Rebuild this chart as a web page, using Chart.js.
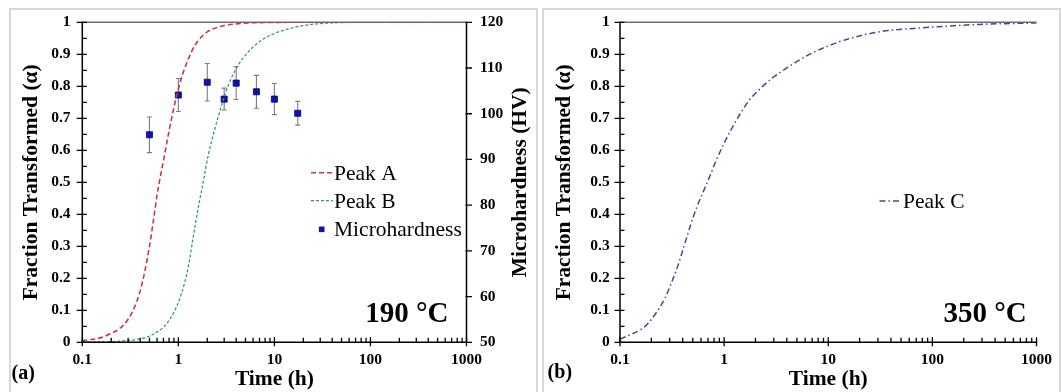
<!DOCTYPE html>
<html><head><meta charset="utf-8">
<script src="https://cdn.jsdelivr.net/npm/chart.js@4/dist/chart.umd.min.js"></script>
<style>
html,body{margin:0;padding:0;background:#fff;width:1062px;height:392px;overflow:hidden;}
.frame{position:absolute;border:2px solid #d8d8d8;box-sizing:border-box;}
canvas{position:absolute;top:0;}
</style></head><body>
<div class="frame" style="left:9px;top:8px;width:529px;height:400px"></div>
<div class="frame" style="left:542px;top:8px;width:519px;height:400px"></div>
<canvas id="ca" width="536" height="392" style="left:0px"></canvas>
<canvas id="cb" width="526" height="392" style="left:536px"></canvas>
<script>
// ---------- data ----------
const timeA = [0.1, 0.15, 0.2, 0.25, 0.3, 0.35, 0.4, 0.45, 0.5, 0.55, 0.6, 0.7, 0.8, 0.9, 1.0, 1.1, 1.25, 1.5, 2.0, 2.6, 4, 7, 20, 1000];
const peakA = [0.005, 0.013, 0.028, 0.045, 0.072, 0.11, 0.16, 0.225, 0.30, 0.38, 0.46, 0.568, 0.66, 0.735, 0.79, 0.835, 0.88, 0.93, 0.97, 0.985, 0.995, 0.999, 1, 1];

const timeB = [0.1, 0.2, 0.28, 0.42, 0.57, 0.76, 0.92, 1.08, 1.27, 1.43, 1.62, 1.8, 2.05, 2.41, 2.83, 3.32, 4.22, 5.36, 7.4, 10.2, 15, 20, 30, 50, 100, 1000];
const peakB = [0.001, 0.002, 0.005, 0.012, 0.028, 0.059, 0.10, 0.153, 0.236, 0.33, 0.424, 0.495, 0.585, 0.669, 0.742, 0.804, 0.867, 0.908, 0.945, 0.966, 0.982, 0.99, 0.996, 0.999, 1, 1];

const hardTime = [0.5, 1, 2, 3, 4, 6.5, 10, 17.5];
const hardness = [95.4, 104.1, 106.9, 103.2, 106.7, 104.8, 103.2, 100.1];
const hardErr  = [3.9, 3.6, 4.1, 2.4, 3.6, 3.6, 3.4, 2.6];

const timeC = [0.1, 0.124, 0.155, 0.18, 0.22, 0.27, 0.31, 0.35, 0.39, 0.43, 0.48, 0.54, 0.62, 0.72, 0.83, 1.0, 1.2, 1.44, 1.73, 2.15, 2.88, 4.16, 6.46, 9.64, 15.5, 32, 67, 139, 288, 1000];
const peakC = [0.01, 0.023, 0.038, 0.054, 0.09, 0.138, 0.184, 0.228, 0.275, 0.32, 0.37, 0.418, 0.465, 0.515, 0.565, 0.622, 0.672, 0.716, 0.755, 0.788, 0.825, 0.861, 0.898, 0.924, 0.948, 0.971, 0.981, 0.988, 0.9935, 0.998];

const xTickVals = [0.1, 1, 10, 100, 1000];
const xTickLabels = ['0.1', '1', '10', '100', '1000'];
const alphaTicks = [0, 0.1, 0.2, 0.3, 0.4, 0.5, 0.6, 0.7, 0.8, 0.9, 1];
const alphaTickLabels = ['0', '0.1', '0.2', '0.3', '0.4', '0.5', '0.6', '0.7', '0.8', '0.9', '1'];
const hvTicks = [50, 60, 70, 80, 90, 100, 110, 120];
const hvTickLabels = ['50', '60', '70', '80', '90', '100', '110', '120'];

// ---------- helpers ----------
const serif = '"Liberation Serif", "Times New Roman", serif';
const CH = 392, PLOT_BOTTOM = 342.3, PLOT_TOP = 22.3;
const pts = (xs, ys) => xs.map((x, i) => ({x: x, y: ys[i]}));

function xScale() {
  return {
    type: 'logarithmic', position: 'bottom', min: 0.1, max: 1000,
    afterBuildTicks: s => { s.ticks = xTickVals.map(v => ({value: v, major: true})); },
    afterFit: s => { s.height = CH - PLOT_BOTTOM; },
    grid: {display: false, drawTicks: false},
    border: {display: false},
    ticks: {autoSkip: false, maxRotation: 0, minRotation: 0, padding: 10, color: '#000',
      font: {family: serif, size: 15.5, weight: 'bold', lineHeight: 1},
      callback: (v, i) => xTickLabels[i]},
    title: {display: true, text: 'Time (h)', color: '#000',
      font: {family: serif, size: 21.5, weight: 'bold', lineHeight: 1}, padding: {top: 0, bottom: 1.5}}
  };
}
function alphaScale(width, titlePad, labelPad) {
  return {
    type: 'linear', position: 'left', min: 0, max: 1,
    afterBuildTicks: s => { s.ticks = alphaTicks.map(v => ({value: v})); },
    afterFit: s => { s.width = width; },
    grid: {display: false, drawTicks: false},
    border: {display: false},
    ticks: {padding: labelPad, color: '#000', font: {family: serif, size: 15.5, weight: 'bold', lineHeight: 1},
      callback: (v, i) => alphaTickLabels[i]},
    title: {display: true, text: 'Fraction Transformed (α)', color: '#000',
      font: {family: serif, size: 21.5, weight: 'bold', lineHeight: 1}, padding: {top: titlePad, bottom: 0}}
  };
}

function decor(cfg) {
  return {
    id: 'decor',
    beforeDatasetsDraw(chart) {
      const {ctx, chartArea: a} = chart;
      ctx.save();
      ctx.strokeStyle = '#707070'; ctx.lineWidth = 1.6;
      ctx.beginPath(); ctx.moveTo(a.left, a.top); ctx.lineTo(a.right, a.top); ctx.stroke();
      if (cfg.errors) {
        const xs = chart.scales.x, ys = chart.scales.y2;
        ctx.strokeStyle = '#7c7c7c'; ctx.lineWidth = 1.1;
        hardTime.forEach((t, i) => {
          const x = xs.getPixelForValue(t);
          const y1 = ys.getPixelForValue(hardness[i] + hardErr[i]);
          const y2 = ys.getPixelForValue(hardness[i] - hardErr[i]);
          ctx.beginPath();
          ctx.moveTo(x, y1); ctx.lineTo(x, y2);
          ctx.moveTo(x - 2.5, y1); ctx.lineTo(x + 2.5, y1);
          ctx.moveTo(x - 2.5, y2); ctx.lineTo(x + 2.5, y2);
          ctx.stroke();
        });
      }
      ctx.restore();
    },
    afterDatasetsDraw(chart) {
      const {ctx, chartArea: a} = chart;
      const xs = chart.scales.x, ys = chart.scales.y;
      ctx.save();
      ctx.strokeStyle = '#000'; ctx.lineWidth = 1.5;
      ctx.beginPath();
      ctx.moveTo(a.left, a.top - 0.5); ctx.lineTo(a.left, a.bottom);
      ctx.lineTo(a.right + (cfg.right ? 0 : 0.75), a.bottom);
      if (cfg.right) { ctx.lineTo(a.right, a.top - 0.5); }
      ctx.stroke();
      ctx.lineWidth = 1.3;
      ctx.beginPath();
      // y ticks (major crossing, minor inside)
      alphaTicks.forEach((v, i) => {
        const y = ys.getPixelForValue(v);
        ctx.moveTo(a.left - 5.5, y); ctx.lineTo(a.left + 4.5, y);
        if (i < alphaTicks.length - 1) {
          const ym = ys.getPixelForValue((v + alphaTicks[i + 1]) / 2);
          ctx.moveTo(a.left, ym); ctx.lineTo(a.left + 4.5, ym);
        }
      });
      // x ticks
      xTickVals.forEach((v, i) => {
        const x = xs.getPixelForValue(v);
        ctx.moveTo(x, a.bottom - 5); ctx.lineTo(x, a.bottom + 4);
        if (i < xTickVals.length - 1) {
          for (let m = 2; m <= 9; m++) {
            const xm = xs.getPixelForValue(v * m);
            ctx.moveTo(xm, a.bottom - 4.5); ctx.lineTo(xm, a.bottom);
          }
        }
      });
      if (cfg.right) {
        const y2 = chart.scales.y2;
        hvTicks.forEach(v => {
          const y = y2.getPixelForValue(v);
          ctx.moveTo(a.right - 1, y); ctx.lineTo(a.right + 5.5, y);
        });
      }
      ctx.stroke();
      ctx.restore();
    },
    afterDraw(chart) {
      const {ctx} = chart;
      ctx.save();
      ctx.fillStyle = '#000';
      ctx.textBaseline = 'alphabetic';
      // legend
      ctx.font = '21.5px ' + serif;
      cfg.legend.forEach(item => {
        const ds = chart.data.datasets[item.ds];
        if (item.kind === 'line') {
          ctx.save();
          ctx.strokeStyle = ds.borderColor; ctx.lineWidth = ds.borderWidth;
          ctx.setLineDash(ds.borderDash);
          ctx.beginPath(); ctx.moveTo(item.x0, item.ly); ctx.lineTo(item.x1, item.ly); ctx.stroke();
          ctx.restore();
        } else {
          ctx.fillStyle = ds.backgroundColor;
          ctx.fillRect(item.sx - 2.8, item.ly - 2.8, 5.6, 5.6);
          ctx.fillStyle = '#000';
        }
        ctx.textAlign = 'left';
        ctx.fillText(ds.label, item.tx, item.ty);
      });
      // temperature
      ctx.font = 'bold 29px ' + serif;
      ctx.textAlign = 'right';
      ctx.fillText(cfg.temp.text, cfg.temp.x, cfg.temp.y);
      // panel letter
      ctx.font = 'bold 20px ' + serif;
      ctx.textAlign = 'left';
      ctx.fillText(cfg.letter.text, cfg.letter.x, cfg.letter.y);
      // right axis title
      if (cfg.right) {
        const a = chart.chartArea;
        ctx.font = 'bold 21.5px ' + serif;
        ctx.textAlign = 'center';
        ctx.translate(cfg.rightTitleX, (a.top + a.bottom) / 2);
        ctx.rotate(-Math.PI / 2);
        ctx.fillText('Microhardness (HV)', 0, 0);
      }
      ctx.restore();
    }
  };
}

// ---------- panel (a) ----------
new Chart(document.getElementById('ca'), {
  type: 'line',
  data: {datasets: [
    {label: 'Peak A', data: pts(timeA, peakA), yAxisID: 'y', borderColor: '#c7393c', borderWidth: 1.6,
     borderDash: [5, 3], pointRadius: 0, cubicInterpolationMode: 'monotone', fill: false},
    {label: 'Peak B', data: pts(timeB, peakB), yAxisID: 'y', borderColor: '#2e9b60', borderWidth: 1.25,
     borderDash: [3, 2], pointRadius: 0, cubicInterpolationMode: 'monotone', fill: false},
    {label: 'Microhardness', data: pts(hardTime, hardness), yAxisID: 'y2', showLine: false,
     pointStyle: 'rect', pointRadius: 4.3, pointBorderWidth: 0.8, backgroundColor: '#0d12b4',
     borderColor: '#06066e', pointBackgroundColor: '#0d12b4', pointBorderColor: '#06066e'}
  ]},
  options: {
    responsive: false, animation: false, devicePixelRatio: 1,
    layout: {padding: {top: PLOT_TOP, left: 0, right: 0, bottom: 0}},
    plugins: {legend: {display: false}, tooltip: {enabled: false}},
    scales: {
      x: xScale(),
      y: alphaScale(82.3, 20.8, 11.7),
      y2: {
        type: 'linear', position: 'right', min: 50, max: 120,
        afterBuildTicks: s => { s.ticks = hvTicks.map(v => ({value: v})); },
        afterFit: s => { s.width = 536 - 466.5; },
        grid: {display: false, drawTicks: false},
        border: {display: false},
        ticks: {padding: 13.5, color: '#000', font: {family: serif, size: 15.5, weight: 'bold', lineHeight: 1},
          callback: (v, i) => hvTickLabels[i]}
      }
    }
  },
  plugins: [decor({
    errors: true, right: true, rightTitleX: 525.5,
    legend: [
      {ds: 0, kind: 'line', x0: 311, x1: 333, ly: 172.7, tx: 334, ty: 179.5},
      {ds: 1, kind: 'line', x0: 311, x1: 333, ly: 200.7, tx: 334, ty: 207.8},
      {ds: 2, kind: 'rect', sx: 321.7, ly: 229.3, tx: 334, ty: 236.2}
    ],
    temp: {text: '190 °C', x: 448.5, y: 321.5},
    letter: {text: '(a)', x: 11.5, y: 379}
  })]
});

// ---------- panel (b) ----------
new Chart(document.getElementById('cb'), {
  type: 'line',
  data: {datasets: [
    {label: 'Peak C', data: pts(timeC, peakC), yAxisID: 'y', borderColor: '#5b3f8d', borderWidth: 1.5,
     borderDash: [6, 3, 1.5, 3], pointRadius: 0, cubicInterpolationMode: 'monotone', fill: false}
  ]},
  options: {
    responsive: false, animation: false, devicePixelRatio: 1,
    layout: {padding: {top: PLOT_TOP, left: 0, right: 526 - 504, bottom: 0}},
    plugins: {legend: {display: false}, tooltip: {enabled: false}},
    scales: {
      x: xScale(),
      y: alphaScale(84, 17.7, 10.3)
    }
  },
  plugins: [decor({
    errors: false, right: false,
    legend: [
      {ds: 0, kind: 'line', x0: 343.5, x1: 366, ly: 201, tx: 367, ty: 207.8}
    ],
    temp: {text: '350 °C', x: 490.7, y: 322},
    letter: {text: '(b)', x: 11.6, y: 378}
  })]
});
</script>
</body></html>
